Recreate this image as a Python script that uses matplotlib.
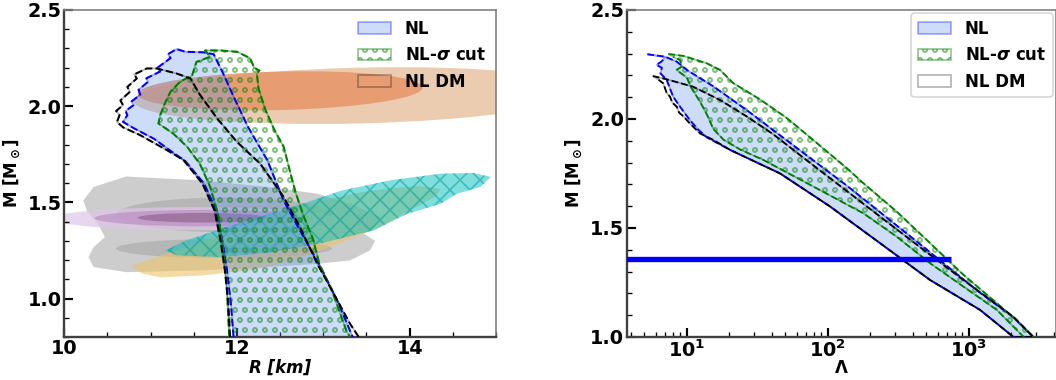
import matplotlib
matplotlib.use('Agg')
import matplotlib.pyplot as plt
from matplotlib.patches import Ellipse
from matplotlib.ticker import MultipleLocator

plt.rcParams['font.weight'] = 'bold'
plt.rcParams['axes.labelweight'] = 'bold'
plt.rcParams['mathtext.default'] = 'bf'
plt.rcParams['hatch.linewidth'] = 1.0

#---- M-R bands (outline: bottom-left -> top -> bottom-right)
nl_R = [11.96, 11.93, 11.885, 11.83, 11.76, 11.62, 11.40, 11.27, 11.04, 10.81,
        10.68, 10.73, 10.71, 10.80, 10.78, 10.88, 10.86, 10.97, 10.95, 11.11,
        11.08, 11.17, 11.23, 11.20, 11.30, 11.40, 11.61, 11.73, 11.84, 11.96,
        12.13, 12.35, 12.54, 12.73, 12.97, 13.16, 13.34]
nl_M = [0.80, 0.97, 1.146, 1.30, 1.458, 1.597, 1.715, 1.755, 1.83, 1.884,
        1.918, 1.953, 1.975, 2.005, 2.025, 2.06, 2.085, 2.127, 2.145, 2.18,
        2.20, 2.23, 2.25, 2.27, 2.297, 2.283, 2.28, 2.27, 2.17, 2.05,
        1.89, 1.72, 1.51, 1.354, 1.163, 0.99, 0.80]

sig_R = [11.91, 11.88, 11.84, 11.79, 11.69, 11.57, 11.42, 11.26, 11.09, 11.11,
         11.17, 11.23, 11.34, 11.48, 11.53, 11.69, 11.63, 11.80, 12.0, 12.15,
         12.20, 12.26, 12.23, 12.25, 12.33, 12.44, 12.54, 12.62, 12.68, 12.77,
         12.88, 12.96, 13.10, 13.27, 13.31]
sig_M = [0.80, 1.077, 1.25, 1.423, 1.58, 1.70, 1.79, 1.858, 1.91, 1.953,
         2.02, 2.075, 2.127, 2.16, 2.23, 2.257, 2.29, 2.29, 2.283, 2.25,
         2.20, 2.185, 2.17, 2.09, 1.98, 1.87, 1.79, 1.65, 1.55, 1.43,
         1.31, 1.17, 1.04, 0.83, 0.80]

dm_R = [11.92, 11.90, 11.86, 11.81, 11.74, 11.60, 11.38, 11.19, 10.88, 10.68,
        10.61, 10.64, 10.60, 10.68, 10.65, 10.76, 10.73, 10.84, 10.81, 10.955,
        11.07, 11.30, 11.46, 11.57, 11.77, 12.0, 12.27, 12.54, 12.73, 12.93,
        13.08, 13.31, 13.41]
dm_M = [0.80, 0.97, 1.146, 1.30, 1.458, 1.597, 1.72, 1.771, 1.849, 1.89,
        1.918, 1.953, 1.975, 2.005, 2.03, 2.075, 2.10, 2.144, 2.165, 2.196,
        2.196, 2.17, 2.144, 2.06, 1.936, 1.814, 1.70, 1.528, 1.371, 1.18,
        1.059, 0.868, 0.80]

#---- observational constraints (M-R)
j0740_outer = (13.4, 2.055, 5.2, 0.29)   # R, M, width, height
j0740_inner = (12.5, 2.08, 3.3, 0.20)
gw_inner = [(11.85, 1.435, 2.5, 0.18), (11.85, 1.26, 2.5, 0.10)]
purple_lv = [(11.5, 1.415, 3.3, 0.12), (11.6, 1.418, 2.5, 0.085), (11.6, 1.42, 1.5, 0.05)]

grey_R = [10.72, 10.34, 10.22, 10.26, 10.40, 10.47, 10.34, 10.28, 10.34, 10.72,
          11.57, 12.35, 12.93, 13.31, 13.54, 13.60, 13.47, 13.58, 13.66, 13.31,
          12.93, 12.35, 11.57, 10.80]
grey_M = [1.635, 1.58, 1.51, 1.458, 1.38, 1.32, 1.267, 1.215, 1.163, 1.137,
          1.146, 1.163, 1.18, 1.198, 1.25, 1.30, 1.337, 1.371, 1.423, 1.493,
          1.545, 1.58, 1.615, 1.632]

yel_R = [10.78, 10.9, 11.11, 11.6, 12.2, 12.65, 13.2, 13.66, 14.0, 14.3,
         14.36, 14.1, 13.8, 13.4, 12.8, 12.2, 11.6, 11.1, 10.85]
yel_M = [1.163, 1.13, 1.11, 1.12, 1.15, 1.2, 1.29, 1.37, 1.458, 1.53,
         1.57, 1.585, 1.575, 1.55, 1.49, 1.40, 1.30, 1.22, 1.18]

cyan_R = [11.17, 11.4, 11.8, 12.3, 12.81, 13.2, 13.78, 14.36, 14.74, 14.94,
          14.82, 14.55, 14.36, 13.97, 13.58, 13.0, 12.4, 11.8, 11.3]
cyan_M = [1.25, 1.30, 1.36, 1.43, 1.50, 1.56, 1.615, 1.649, 1.653, 1.632,
          1.58, 1.545, 1.493, 1.44, 1.354, 1.29, 1.24, 1.215, 1.225]

#---- M-Lambda bands (outline: top-left -> upper edge -> lower edge back)
nl_L = [5.25, 7.0, 8.5, 10, 15.4, 26.7, 45.9, 79, 136, 235, 405, 698, 1202, 2070, 2870,
        2070, 1202, 532, 235, 104, 45.9, 20.3, 13.9, 12.1, 10.5, 8.96, 8.0, 7.2, 6.5,
        6.65, 6.1, 6.65, 7.0]
nl_ML = [2.297, 2.286, 2.263, 2.225, 2.15, 2.04, 1.925, 1.81, 1.695, 1.572, 1.45, 1.326, 1.203, 1.09, 1.0,
         1.0, 1.124, 1.261, 1.43, 1.598, 1.75, 1.858, 1.915, 1.95, 1.995, 2.056, 2.102, 2.179, 2.21,
         2.235, 2.248, 2.265, 2.283]

sig_L = [7.4, 9.5, 13.9, 17.2, 21.4, 33, 51, 83.5, 136, 179, 308, 532, 916, 1580, 2190, 2870,
         2450, 1580, 916, 532, 308, 179, 79, 34.9, 23.9, 18.2, 15.4, 13.9, 12.4, 10.8, 10,
         8.46, 9.2, 8.97, 8.0]
sig_ML = [2.298, 2.289, 2.255, 2.225, 2.164, 2.09, 2.005, 1.89, 1.775, 1.705, 1.575, 1.43, 1.285, 1.155, 1.075, 1.0,
          1.0, 1.124, 1.231, 1.338, 1.46, 1.567, 1.69, 1.812, 1.86, 1.905, 1.955, 2.02, 2.08, 2.141, 2.19,
          2.225, 2.24, 2.27, 2.285]

dm_L = [5.74, 7.2, 11.1, 17.2, 26.7, 41, 71, 136, 235, 405, 916, 2070, 2870,
        2070, 1202, 532, 235, 104, 45.9, 20.3, 15.4, 12.4, 10.5, 9.5, 8.8, 8.5, 7.9, 7.6,
        7.2, 6.8, 6.3]
dm_ML = [2.197, 2.182, 2.148, 2.087, 2.011, 1.93, 1.81, 1.67, 1.552, 1.435, 1.261, 1.093, 1.0,
         1.0, 1.124, 1.261, 1.43, 1.598, 1.75, 1.858, 1.904, 1.934, 1.98, 2.011, 2.03, 2.056, 2.075, 2.102,
         2.12, 2.164, 2.18]

gw_M = 1.36
gw_Lmax = 748

nl_face = (0.39, 0.58, 0.93, 0.32)
nl_edge = (0.0, 0.0, 1.0, 0.35)
sig_edge = (0.0, 0.5, 0.0, 0.45)
dm_edge = (0.0, 0.0, 0.0, 0.3)
sig_label = r'NL-$\boldsymbol{\sigma}$ cut'

fig = plt.figure(figsize=(8.8, 380 / 120), dpi=120)
ax1 = fig.add_axes([0.0609, 0.1132, 0.4088, 0.8605])
ax2 = fig.add_axes([0.5935, 0.1132, 0.4065, 0.8605])

#---- left panel: observations
c = j0740_outer
ax1.add_patch(Ellipse((c[0], c[1]), c[2], c[3], angle=0.6, fc=(0.92, 0.80, 0.69), ec='none', zorder=1))
c = j0740_inner
ax1.add_patch(Ellipse((c[0], c[1]), c[2], c[3], angle=0.6, fc=(0.91, 0.58, 0.40), ec='none', alpha=0.85, zorder=1))
ax1.fill(grey_R, grey_M, fc='0.72', ec='none', alpha=0.7, zorder=1)
for c in gw_inner:
    ax1.add_patch(Ellipse((c[0], c[1]), c[2], c[3], fc='0.55', ec='none', alpha=0.35, zorder=1))
for c, col in zip(purple_lv, [(0.87, 0.78, 0.91), (0.74, 0.56, 0.77), (0.56, 0.40, 0.56)]):
    ax1.add_patch(Ellipse((c[0], c[1]), c[2], c[3], fc=col, ec='none', alpha=0.7, zorder=1))
ax1.fill(yel_R, yel_M, fc='#ecc366', ec='none', alpha=0.6, zorder=1)
ax1.fill(cyan_R, cyan_M, fc=(0.0, 0.75, 0.75, 0.5), ec=(0.0, 0.6, 0.6, 0.5), lw=0, hatch='xx', zorder=1)

#---- left panel: bands
ax1.fill(nl_R, nl_M, fc=nl_face, ec=nl_edge, lw=1, label='NL', zorder=2)
ax1.fill(sig_R, sig_M, fc='none', ec=sig_edge, hatch='oo', lw=1, label=sig_label, zorder=2)
ax1.fill(dm_R, dm_M, fc='none', ec=dm_edge, lw=1, label='NL DM', zorder=2)
ax1.plot(nl_R, nl_M, '--', color='blue', lw=1.2, zorder=3)
ax1.plot(sig_R, sig_M, '--', color='green', lw=1.2, zorder=3)
ax1.plot(dm_R, dm_M, '--', color='black', lw=1.2, zorder=3)

ax1.set_xlim(10, 15)
ax1.set_ylim(0.8, 2.5)
ax1.xaxis.set_major_locator(MultipleLocator(2))
ax1.xaxis.set_minor_locator(MultipleLocator(0.5))
ax1.set_xlabel('R [km]', fontsize=10, fontstyle='italic', labelpad=0)
ax1.legend(loc='upper right', frameon=False, fontsize=10, borderaxespad=0.2)

#---- right panel
ax2.fill(nl_L, nl_ML, fc=nl_face, ec=nl_edge, lw=1, label='NL', zorder=2)
ax2.fill(sig_L, sig_ML, fc='none', ec=sig_edge, hatch='oo', lw=1, label=sig_label, zorder=2)
ax2.fill(dm_L, dm_ML, fc='none', ec=dm_edge, lw=1, label='NL DM', zorder=2)
ax2.plot(nl_L, nl_ML, '--', color='blue', lw=1.1, zorder=3)
ax2.plot(sig_L, sig_ML, '--', color='green', lw=1.1, zorder=3)
ax2.plot(dm_L, dm_ML, '--', color='black', lw=1.1, zorder=3)
ax2.hlines(gw_M, 1, gw_Lmax, color='blue', lw=3.2, zorder=4)

ax2.set_xscale('log')
ax2.set_xlim(3.75, 4150)
ax2.set_ylim(1.0, 2.5)
ax2.set_xlabel('Λ', fontsize=10, labelpad=-1)
ax2.legend(loc='upper right', fontsize=10, borderaxespad=0.2)

for ax in (ax1, ax2):
    ax.yaxis.set_major_locator(MultipleLocator(0.5))
    ax.yaxis.set_minor_locator(MultipleLocator(0.1))
    ax.set_ylabel(r'M [$\boldsymbol{M_\odot}$]', fontsize=10, labelpad=3)
    ax.tick_params(which='major', direction='in', length=5.5, width=1.3, labelsize=11.5, pad=1.5)
    ax.tick_params(which='minor', direction='in', length=3, width=0.8)
    for s in ('left', 'bottom'):
        ax.spines[s].set_color('0.25')
        ax.spines[s].set_linewidth(1.4)
    for s in ('top', 'right'):
        ax.spines[s].set_color('0.5')
        ax.spines[s].set_linewidth(1.0)

plt.savefig('out.png', dpi=120)
